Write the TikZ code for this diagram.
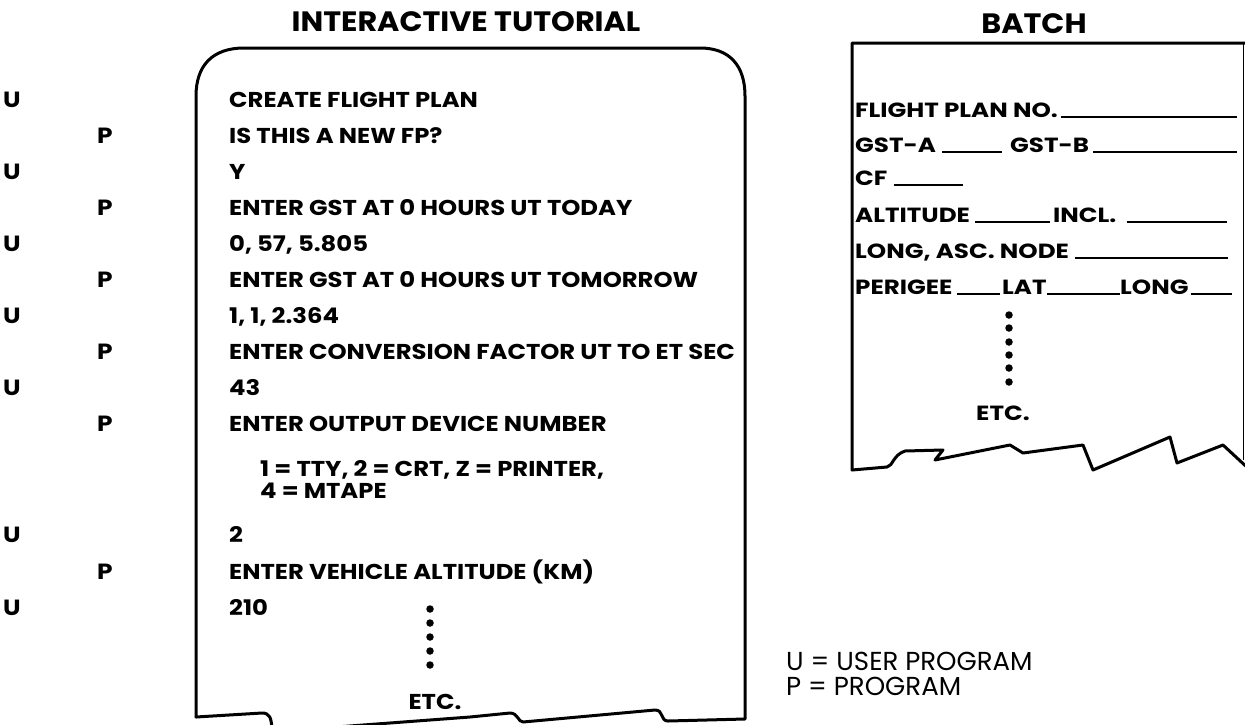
\documentclass[tikz,border=0pt]{standalone}
\usepackage{fontspec}
\setmainfont{Poppins}
\newfontfamily\boxfont{Poppins}[FakeStretch=1.13]
\newfontfamily\batchfont{Poppins}[FakeStretch=1.2]
\newfontfamily\titlefont{Poppins}[FakeStretch=1.08]
\begin{document}
\begin{tikzpicture}[x=1pt,y=-1pt,
  boxline/.style={line width=3pt, line join=round, line cap=round},
  blank/.style={line width=2.6pt},
  txt/.style={anchor=base west, inner sep=0pt, font=\boxfont\fontsize{21.5}{21.5}\selectfont\bfseries},
  btxt/.style={anchor=base west, inner sep=0pt, font=\batchfont\fontsize{20.5}{20.5}\selectfont\bfseries},
  side/.style={anchor=base, inner sep=0pt, font=\boxfont\fontsize{22}{22}\selectfont\bfseries},
  title/.style={inner sep=0pt, font=\titlefont\fontsize{28}{28}\selectfont\bfseries},
  legend/.style={anchor=north west, inner sep=0pt, align=left, font=\fontsize{26}{25}\selectfont},
  dot/.style={circle, fill=black, inner sep=0pt, minimum size=7.5pt}]
\useasboundingbox (0,0) rectangle (1245,724);
% titles
\node[title] (ttl1) at (466,22) {INTERACTIVE TUTORIAL};
\node[title] (ttl2) at (1034,24) {BATCH};
% tutorial box
\draw[boxline] (196,717) -- (196,96) .. controls (196,66) and (212,48) .. (244,48) -- (700,48)
  .. controls (730,48) and (745,66) .. (745,96) -- (745,719) -- (668,721)
  .. controls (660,721) and (664,710) .. (655,710) -- (523,722)
  .. controls (518,722) and (518,713) .. (510,713) -- (470,717) -- (323,728);
\draw[boxline] (196,717) -- (262,713) .. controls (270,713) and (271,718) .. (272,728);
% tutorial text
\node[txt] (t1) at (229,107) {CREATE FLIGHT PLAN};
\node[txt] (t2) at (229,143) {IS THIS A NEW FP?};
\node[txt] (t3) at (229,179) {Y};
\node[txt] (t4) at (229,215) {ENTER GST AT 0 HOURS UT TODAY};
\node[txt] (t5) at (229,251) {0, 57, 5.805};
\node[txt] (t6) at (229,287) {ENTER GST AT 0 HOURS UT TOMORROW};
\node[txt] (t7) at (229,323) {1, 1, 2.364};
\node[txt] (t8) at (229,359) {ENTER CONVERSION FACTOR UT TO ET SEC};
\node[txt] (t9) at (229,395) {43};
\node[txt] (t10) at (229,431) {ENTER OUTPUT DEVICE NUMBER};
\node[txt] (t11) at (260,476) {1 = TTY, 2 = CRT, Z = PRINTER,};
\node[txt] (t12) at (260,498) {4 = MTAPE};
\node[txt] (t13) at (229,542) {2};
\node[txt] (t14) at (229,579) {ENTER VEHICLE ALTITUDE (KM)};
\node[txt] (t15) at (229,615) {210};
\foreach \i/\yy in {1/609,2/623,3/637,4/651,5/665}{\node[dot] (td\i) at (430,\yy) {};}
\node[txt, anchor=center] (tetc) at (435,702) {ETC.};
% side labels
\foreach \n/\yy in {1/107,3/179,5/251,7/323,9/395,13/542,15/615}{\node[side] (u\n) at (12,\yy) {U};}
\foreach \n/\yy in {2/143,4/215,6/287,8/359,10/431,14/579}{\node[side] (p\n) at (105,\yy) {P};}
% batch box
\draw[boxline] (1250,43) -- (852,43) -- (852,470) -- (887,467)
  .. controls (893,466) and (893,455) .. (905,451) -- (943,450) -- (935,460)
  -- (1010,445) -- (1023,453) -- (1083,445) -- (1093,470) -- (1170,437)
  -- (1177,463) -- (1223,445) -- (1250,470);
\draw[line width=1pt] (1243,43) -- (1243,460);
% batch text
\node[btxt] (b1) at (855,117) {FLIGHT PLAN NO.};
\draw[blank] ([xshift=3pt]b1.base east) -- (1237,117);
\node[btxt] (b2) at (855,152) {GST-A};
\draw[blank] ([xshift=6pt]b2.base east) -- (1002,152);
\node[btxt] (b3) at (1010,152) {GST-B};
\draw[blank] ([xshift=4pt]b3.base east) -- (1237,152);
\node[btxt] (b4) at (855,185) {CF};
\draw[blank] ([xshift=6pt]b4.base east) -- (963,185);
\node[btxt] (b5) at (855,222) {ALTITUDE};
\draw[blank] ([xshift=5pt]b5.base east) -- (1050,222);
\node[btxt] (b6) at (1053,222) {INCL.};
\draw[blank] ([xshift=10pt]b6.base east) -- (1227,222);
\node[btxt] (b7) at (855,258) {LONG, ASC. NODE};
\draw[blank] ([xshift=6pt]b7.base east) -- (1228,258);
\node[btxt] (b8) at (855,294) {PERIGEE};
\draw[blank] ([xshift=4pt]b8.base east) -- (1000,294);
\node[btxt] (b9) at (1002,294) {LAT};
\draw[blank] (b9.base east) -- (1120,294);
\node[btxt] (b10) at (1120,294) {LONG};
\draw[blank] ([xshift=2pt]b10.base east) -- (1232,294);
\foreach \i/\yy in {1/315,2/328,3/342,4/355,5/368,6/382}{\node[dot] (bd\i) at (1009,\yy) {};}
\node[btxt, anchor=center] (betc) at (1003,413) {ETC.};
% legend
\node[legend] (leg) at (786,652) {U = USER PROGRAM\\P = PROGRAM};
\end{tikzpicture}
\end{document}
